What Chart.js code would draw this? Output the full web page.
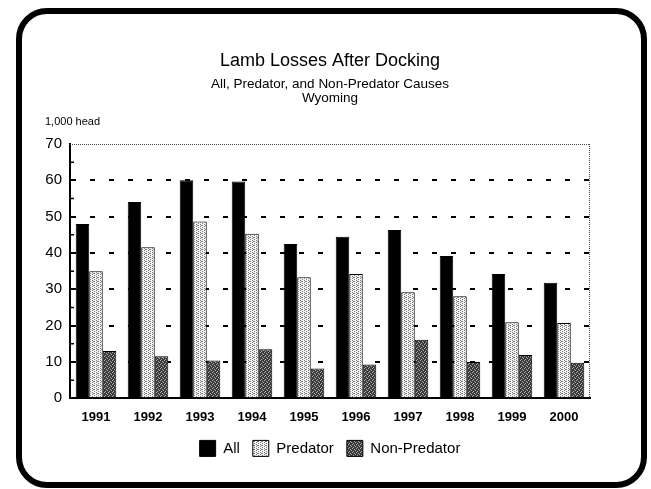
<!DOCTYPE html>
<html>
<head>
<meta charset="utf-8">
<script src="https://cdn.jsdelivr.net/npm/chart.js@4/dist/chart.umd.min.js"></script>
<style>
html,body{margin:0;padding:0;background:#fff;}
canvas{display:block;}
</style>
</head>
<body>
<canvas id="c" width="651" height="489"></canvas>
<script>
const years = ['1991','1992','1993','1994','1995','1996','1997','1998','1999','2000'];
const allLosses = [48, 54, 60, 59.7, 42.5, 44.5, 46.3, 39.2, 34.2, 31.8];
const predatorLosses = [35, 41.6, 48.7, 45.3, 33.3, 34.2, 29.2, 28.1, 20.9, 20.7];
const nonPredatorLosses = [13, 11.6, 10.4, 13.5, 8.2, 9.3, 16.1, 10, 11.9, 9.8];
const seriesNames = ['All', 'Predator', 'Non-Predator'];
const yTicks = {min: 0, max: 70, step: 10};

const FONT = "'Liberation Sans', Arial, Helvetica, sans-serif";

function makePattern(bg, fg, dots) {
  const c = document.createElement('canvas');
  c.width = 4; c.height = 4;
  const x = c.getContext('2d');
  x.fillStyle = bg; x.fillRect(0, 0, 4, 4);
  x.fillStyle = fg;
  dots.forEach(d => x.fillRect(d[0], d[1], 1, 1));
  return x.createPattern(c, 'repeat');
}
const ctx0 = document.getElementById('c').getContext('2d');
const predPattern = makePattern('#f4f4f4', '#7a7a7a', [[0,0],[2,1],[0,2],[2,3],[1,1]]);
const nonPredPattern = makePattern('#3a3a3a', '#b0b0b0', [[0,0],[2,1],[1,3],[3,2]]);

const decor = {
  id: 'decor',
  afterDatasetsDraw(chart) {
    const {ctx, chartArea: a, scales: {y}} = chart;
    ctx.save();
    // dotted top and right frame
    ctx.strokeStyle = '#444';
    ctx.lineWidth = 1;
    ctx.setLineDash([1, 1]);
    ctx.beginPath();
    ctx.moveTo(a.left, a.top + 0.5); ctx.lineTo(a.right, a.top + 0.5);
    ctx.moveTo(a.right - 0.5, a.top); ctx.lineTo(a.right - 0.5, a.bottom);
    ctx.stroke();
    ctx.setLineDash([]);
    // minor ticks on y axis
    ctx.strokeStyle = '#000';
    ctx.lineWidth = 1.5;
    ctx.beginPath();
    for (let v = 5; v < 70; v += 5) {
      const py = y.getPixelForValue(v);
      ctx.moveTo(a.left, py); ctx.lineTo(a.left + 4, py);
    }
    ctx.stroke();
    ctx.restore();
  },
  afterDraw(chart) {
    const {ctx} = chart;
    ctx.save();
    ctx.fillStyle = '#000';
    ctx.font = '11px ' + FONT;
    ctx.textBaseline = 'middle';
    ctx.textAlign = 'left';
    ctx.fillText('1,000 head', 45, 122);
    // rounded outer frame
    ctx.strokeStyle = '#000';
    ctx.lineWidth = 6;
    ctx.beginPath();
    ctx.roundRect(19, 11, 625, 474, 28);
    ctx.stroke();
    ctx.restore();
  }
};

new Chart(ctx0, {
  type: 'bar',
  data: {
    labels: years,
    datasets: [
      {label: seriesNames[0], data: allLosses, backgroundColor: '#000', borderColor: '#000', borderWidth: 1},
      {label: seriesNames[1], data: predatorLosses, backgroundColor: predPattern, borderColor: '#000', borderWidth: 1},
      {label: seriesNames[2], data: nonPredatorLosses, backgroundColor: nonPredPattern, borderColor: '#000', borderWidth: 1}
    ]
  },
  options: {
    responsive: false,
    devicePixelRatio: 1,
    animation: false,
    datasets: {bar: {categoryPercentage: 0.78, barPercentage: 1.0}},
    layout: {padding: {left: 0, right: 61, top: 0, bottom: 22.6}},
    plugins: {
      title: {
        display: true, fullSize: false,
        text: 'Lamb Losses After Docking',
        color: '#000',
        font: {family: FONT, size: 18, weight: 'normal', lineHeight: 1.2},
        padding: {top: 50.7, bottom: 0}
      },
      subtitle: {
        display: true, fullSize: false,
        text: ['All, Predator, and Non-Predator Causes', 'Wyoming'],
        color: '#000',
        font: {family: FONT, size: 13.5, weight: 'normal', lineHeight: 1.074},
        padding: {top: 4.45, bottom: 38.25}
      },
      legend: {
        display: true, position: 'bottom', fullSize: false,
        labels: {
          boxWidth: 16, boxHeight: 16, padding: 13, color: '#000',
          font: {family: FONT, size: 15}
        }
      },
      tooltip: {enabled: false}
    },
    scales: {
      x: {
        grid: {display: false, drawTicks: false},
        border: {display: true, color: '#000', width: 2},
        ticks: {color: '#000', padding: 11, font: {family: FONT, size: 13, weight: 'bold'}},
        afterFit: s => { s.height = 29.1; }
      },
      y: {
        min: yTicks.min, max: yTicks.max,
        ticks: {stepSize: yTicks.step, color: '#000', padding: 8, font: {family: FONT, size: 15}},
        grid: {
          drawTicks: false,
          lineWidth: 2,
          color: c => (c.tick && (c.tick.value === yTicks.min || c.tick.value === yTicks.max)) ? 'rgba(0,0,0,0)' : '#000'
        },
        border: {display: true, color: '#000', width: 2, dash: [5, 14]},
        afterFit: s => { s.width = 70; }
      }
    }
  },
  plugins: [decor]
});
</script>
</body>
</html>
